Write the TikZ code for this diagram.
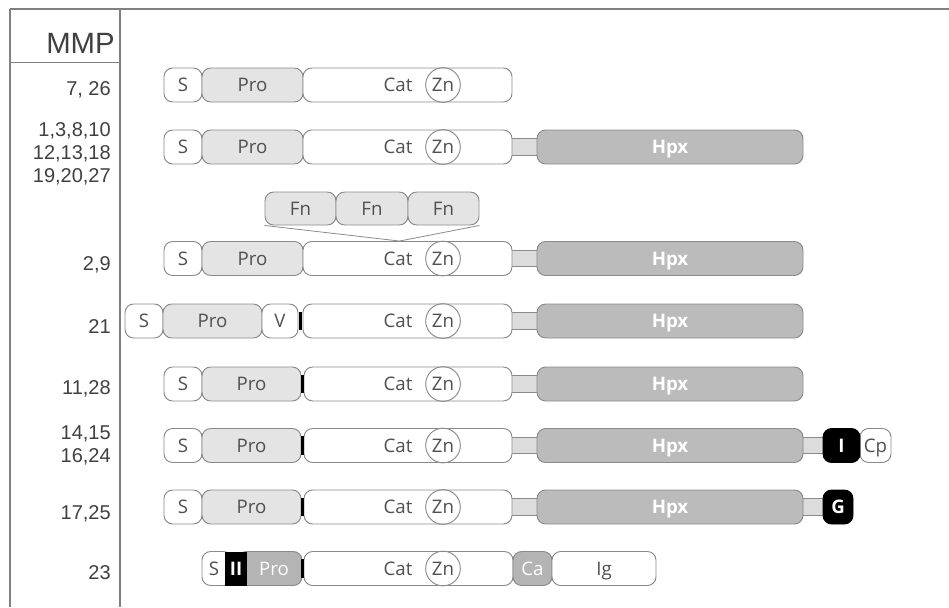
\documentclass[tikz,border=0pt]{standalone}
\usepackage{fontspec}
\setmainfont{Open Sans}
\newfontfamily\labfont{Liberation Sans}
\definecolor{bord}{HTML}{8A8A8A}
\definecolor{progray}{HTML}{E4E4E4}
\definecolor{hpxgray}{HTML}{BBBBBB}
\definecolor{lnkgray}{HTML}{DCDCDC}
\definecolor{txtc}{HTML}{505050}
\definecolor{dkpro}{HTML}{B4B4B4}
\definecolor{framec}{HTML}{808080}
\newcommand\dseg[6]{\node[#5, minimum width={(#3-#2)*0.75pt}] (#1) at ({(#2+#3)/2},#4) {#6};}
\tikzset{
  segbox/.style={draw=bord, line width=0.7pt, rounded corners=6.5pt, minimum height=25.5pt,
    inner sep=0pt, text=txtc, text depth=0pt, font=\fontsize{14}{15}\selectfont},
  wbox/.style={segbox, fill=white},
  probox/.style={segbox, fill=progray},
  hpxbox/.style={segbox, fill=hpxgray, text=white, font=\bfseries\fontsize{14}{15}\selectfont},
  blkbox/.style={segbox, draw=black, fill=black, text=white, font=\bfseries\fontsize{14}{15}\selectfont},
  dkbox/.style={segbox, fill=dkpro, text=white},
  lnkbox/.style={draw=bord, line width=0.6pt, fill=lnkgray, minimum height=12.5pt, inner sep=0pt},
  tickbox/.style={fill=black, minimum width=2pt, minimum height=14pt, inner sep=0pt},
  znc/.style={circle, draw=bord, line width=0.7pt, minimum size=26pt, inner sep=0pt, text=txtc,
    text depth=0pt, font=\fontsize{14}{15}\selectfont},
  cattxt/.style={text=txtc, text depth=0pt, inner sep=0pt, font=\fontsize{14}{15}\selectfont},
  lab/.style={anchor=east, align=right, inner sep=0pt, text=black!75,
    font=\labfont\fontsize{15}{17.3}\selectfont},
  framel/.style={draw=framec, line width=0.8pt},
  fnline/.style={draw=bord, line width=0.6pt}
}
\begin{document}
\begin{tikzpicture}[x=0.75pt,y=-0.75pt]
\useasboundingbox (0,0) rectangle (949,607);
% frame
\coordinate (ftl) at (10,9);
\coordinate (ftr) at (949,9);
\coordinate (fbl) at (10,607);
\coordinate (dt) at (120,9);
\coordinate (db) at (120,607);
\coordinate (hl) at (10,62.5);
\coordinate (hr) at (120,62.5);
\draw[framel] (ftl) -- (ftr);
\draw[framel] (ftl) -- (fbl);
\draw[framel] (dt) -- (db);
\draw[framel] (hl) -- (hr);
\node[anchor=east, inner sep=0pt, text=black!75, font=\labfont\fontsize{22}{24}\selectfont] (mmp) at (115,43) {MMP};

% labels
\node[lab] (l1) at (111,90) {7, 26};
\node[lab] (l2) at (111,154) {1,3,8,10\\12,13,18\\19,20,27};
\node[lab] (l3) at (111,265) {2,9};
\node[lab] (l4) at (111,327) {21};
\node[lab] (l5) at (111,389) {11,28};
\node[lab] (l6) at (111,445) {14,15\\16,24};
\node[lab] (l7) at (111,514) {17,25};
\node[lab] (l8) at (111,573) {23};

% row 1
\dseg{s1}{164}{202}{85}{wbox}{S}
\dseg{p1}{202}{303}{85}{probox}{Pro}
\dseg{c1}{303}{512}{85}{wbox}{}
\node[cattxt] (ct1) at (398,85) {Cat};
\node[znc] (z1) at (443,85) {Zn};

% row 2
\dseg{k2}{508}{541}{147}{lnkbox}{}
\dseg{s2}{164}{202}{147}{wbox}{S}
\dseg{p2}{202}{303}{147}{probox}{Pro}
\dseg{c2}{303}{512}{147}{wbox}{}
\node[cattxt] (ct2) at (398,147) {Cat};
\node[znc] (z2) at (443,147) {Zn};
\dseg{h2}{537}{803}{147}{hpxbox}{Hpx}

% Fn row
\dseg{fn1}{265}{336}{208.5}{probox, minimum height=24.75pt}{Fn}
\dseg{fn2}{336}{408}{208.5}{probox, minimum height=24.75pt}{Fn}
\dseg{fn3}{408}{479}{208.5}{probox, minimum height=24.75pt}{Fn}

% row 3
\dseg{k3}{508}{541}{258.5}{lnkbox}{}
\dseg{s3}{164}{202}{258.5}{wbox}{S}
\dseg{p3}{202}{303}{258.5}{probox}{Pro}
\dseg{c3}{303}{512}{258.5}{wbox}{}
\node[cattxt] (ct3) at (398,258.5) {Cat};
\node[znc] (z3) at (443,258.5) {Zn};
\dseg{h3}{537}{803}{258.5}{hpxbox}{Hpx}
\path (c3.north west) ++(97,0) coordinate (vpt);
\draw[fnline] (fn1.south west) -- (vpt) -- (fn3.south east);

% row 4
\dseg{k4}{508}{541}{321}{lnkbox}{}
\dseg{s4}{125}{163}{321}{wbox}{S}
\dseg{p4}{163}{262}{321}{probox}{Pro}
\dseg{v4}{262}{298}{321}{wbox}{V}
\dseg{c4}{303}{512}{321}{wbox}{}
\node[tickbox] (t4) at (300.5,321) {};
\node[cattxt] (ct4) at (398,321) {Cat};
\node[znc] (z4) at (443,321) {Zn};
\dseg{h4}{537}{803}{321}{hpxbox}{Hpx}

% row 5
\dseg{k5}{508}{541}{384}{lnkbox}{}
\dseg{s5}{164}{202}{384}{wbox}{S}
\dseg{p5}{202}{301}{384}{probox}{Pro}
\dseg{c5}{304}{512}{384}{wbox}{}
\node[tickbox] (t5) at (302.5,384) {};
\node[cattxt] (ct5) at (398,384) {Cat};
\node[znc] (z5) at (443,384) {Zn};
\dseg{h5}{537}{803}{384}{hpxbox}{Hpx}

% row 6
\dseg{k6}{508}{541}{445.5}{lnkbox}{}
\dseg{kk6}{799}{827}{445.5}{lnkbox}{}
\dseg{s6}{164}{202}{445.5}{wbox}{S}
\dseg{p6}{202}{301}{445.5}{probox}{Pro}
\dseg{c6}{304}{512}{445.5}{wbox}{}
\node[tickbox] (t6) at (302.5,445.5) {};
\node[cattxt] (ct6) at (398,445.5) {Cat};
\node[znc] (z6) at (443,445.5) {Zn};
\dseg{h6}{537}{803}{445.5}{hpxbox}{Hpx}
\dseg{cp6}{860}{891}{445.5}{wbox}{Cp}
\dseg{i6}{823}{860}{445.5}{blkbox}{I}

% row 7
\dseg{k7}{508}{541}{507}{lnkbox}{}
\dseg{kk7}{799}{827}{507}{lnkbox}{}
\dseg{s7}{164}{202}{507}{wbox}{S}
\dseg{p7}{202}{301}{507}{probox}{Pro}
\dseg{c7}{304}{512}{507}{wbox}{}
\node[tickbox] (t7) at (302.5,507) {};
\node[cattxt] (ct7) at (398,507) {Cat};
\node[znc] (z7) at (443,507) {Zn};
\dseg{h7}{537}{803}{507}{hpxbox}{Hpx}
\dseg{g7}{823}{853}{507}{blkbox}{G}

% row 8
\dseg{p8}{238}{302}{568.5}{dkbox}{}
\dseg{s8}{202}{232}{568.5}{wbox}{}
\node[cattxt] (st8) at (214,568.5) {S};
\dseg{ii8}{225}{247}{568.5}{fill=black, minimum height=25.5pt, inner sep=0pt, text=white, text depth=0pt, font=\bfseries\fontsize{14}{15}\selectfont}{II}
\node[cattxt, text=white] (pt8) at (274,568.5) {Pro};
\dseg{c8}{304}{513}{568.5}{wbox}{}
\node[tickbox] (t8) at (302.5,568.5) {};
\node[cattxt] (ct8) at (398,568.5) {Cat};
\node[znc] (z8) at (443,568.5) {Zn};
\dseg{ca8}{513}{552}{568.5}{dkbox}{Ca}
\dseg{ig8}{552}{656}{568.5}{wbox}{Ig}
\end{tikzpicture}
\end{document}
